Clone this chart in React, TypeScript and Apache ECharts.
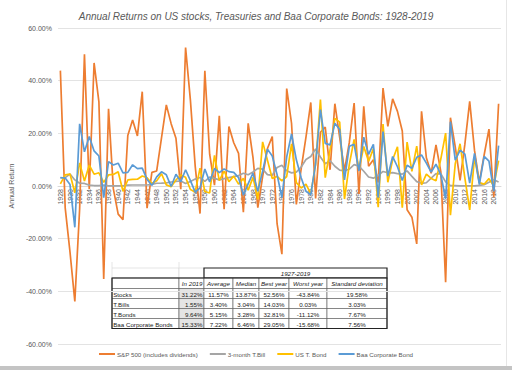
import React, { useEffect, useRef } from "react";
import * as echarts from "echarts";

const years: string[] = Array.from({ length: 92 }, (_, i) => String(1928 + i));

const sp500 = [
  43.81, -8.3, -25.12, -43.84, -8.64, 49.98, -1.19, 46.74, 31.94, -35.34,
  29.28, -1.1, -10.67, -12.77, 19.17, 25.06, 19.03, 35.82, -8.43, 5.2,
  5.7, 18.3, 30.81, 23.68, 18.15, -1.21, 52.56, 32.6, 7.44, -10.46,
  43.72, 12.06, 0.34, 26.64, -8.81, 22.61, 16.42, 12.4, -9.97, 23.8,
  10.81, -8.24, 3.56, 14.22, 18.76, -14.31, -25.9, 37.0, 23.83, -6.98,
  6.51, 18.52, 31.74, -4.7, 20.42, 22.34, 6.15, 31.24, 18.49, 5.81,
  16.54, 31.48, -3.06, 30.23, 7.49, 9.97, 1.33, 37.2, 22.68, 33.1,
  28.34, 20.89, -9.03, -11.85, -21.97, 28.36, 10.74, 4.83, 15.61, 5.48,
  -36.55, 25.94, 14.82, 2.1, 15.89, 32.15, 13.52, 1.38, 11.77, 21.61,
  -4.23, 31.22,
];

const tbill = [
  3.08, 3.16, 4.55, 2.31, 1.07, 0.96, 0.32, 0.18, 0.17, 0.3,
  0.08, 0.04, 0.03, 0.08, 0.34, 0.38, 0.38, 0.38, 0.38, 0.6,
  1.05, 1.12, 1.2, 1.52, 1.72, 1.89, 0.94, 1.72, 2.62, 3.22,
  1.77, 3.39, 2.87, 2.35, 2.77, 3.16, 3.55, 3.95, 4.86, 4.29,
  5.34, 6.67, 6.39, 4.33, 4.06, 7.04, 7.85, 5.79, 4.98, 5.27,
  7.22, 10.04, 11.22, 14.03, 11.01, 8.45, 9.61, 7.49, 6.04, 5.72,
  6.45, 8.11, 7.55, 5.61, 3.41, 2.98, 3.99, 5.52, 5.02, 5.05,
  4.73, 4.51, 5.76, 3.67, 1.66, 1.03, 1.23, 3.01, 4.68, 4.64,
  1.59, 0.14, 0.13, 0.03, 0.05, 0.07, 0.05, 0.21, 0.51, 1.39,
  2.37, 1.55,
];

const tbond = [
  0.84, 4.2, 4.54, -2.56, 8.79, 1.86, 7.96, 4.47, 5.02, 1.38,
  4.21, 4.41, 5.4, -2.02, 2.29, 2.49, 2.58, 3.8, 3.13, 0.92,
  1.95, 4.66, 0.43, -0.3, 2.27, 4.14, 3.29, -1.34, -2.26, 6.8,
  -2.1, -2.65, 11.64, 2.06, 5.69, 1.68, 3.73, 0.72, 2.91, -1.58,
  3.27, -5.01, 16.75, 9.79, 2.82, 3.66, 1.99, 3.61, 15.98, 1.29,
  -0.78, 0.67, -2.99, 8.2, 32.81, 3.2, 13.73, 25.71, 24.28, -4.96,
  8.22, 17.69, 6.24, 15.0, 9.36, 14.21, -8.04, 23.48, 1.43, 9.94,
  14.92, -8.25, 16.66, 5.57, 15.12, 0.38, 4.49, 2.87, 1.96, 10.21,
  20.1, -11.12, 8.46, 16.04, 2.97, -9.1, 10.75, 1.28, 0.69, 2.8,
  -0.02, 9.64,
];

const baa = [
  3.22, 3.02, 0.54, -15.68, 23.59, 12.97, 18.82, 13.31, 11.38, -4.42,
  9.24, 7.98, 8.65, 5.01, 5.18, 8.04, 6.57, 6.8, 2.51, 0.26,
  3.44, 5.38, 4.24, -0.19, 4.44, 1.62, 6.16, 2.04, -2.35, -0.72,
  6.43, 1.57, 6.66, 5.1, 6.5, 5.46, 5.16, 3.19, -3.45, 0.9,
  4.85, -2.03, 5.65, 14.0, 11.41, 4.32, -4.38, 11.05, 19.75, 9.95,
  3.14, -2.01, -3.32, 8.46, 29.05, 16.19, 15.62, 23.86, 21.49, 2.29,
  15.12, 15.79, 5.7, 18.54, 12.01, 15.78, -4.39, 20.64, 3.76, 11.18,
  7.31, 2.11, 7.88, 6.72, 10.93, 11.77, 8.71, 5.29, 8.27, 4.35,
  -4.83, 24.42, 9.82, 13.61, 12.09, 1.12, 12.34, 0.56, 11.24, 9.45,
  -2.06, 15.33,
];

const seriesNames = ["S&P 500 (includes dividends)", "3-month T.Bill", "US T. Bond", "Baa Corporate Bond"];
const seriesColors = ["#ED7D31", "#A5A5A5", "#FFC000", "#5B9BD5"];
const yTicks = { min: -60, max: 60, interval: 20 };

const tablePeriod = "1927-2019";
const tableHeaders = ["In 2019", "Average", "Median", "Best year", "Worst year", "Standard deviation"];
const tableRows = ["Stocks", "T.Bills", "T.Bonds", "Baa Corporate Bonds"];
const in2019 = ["31.22%", "1.55%", "9.64%", "15.33%"];
const average = ["11.57%", "3.40%", "5.15%", "7.22%"];
const median = ["13.87%", "3.04%", "3.28%", "6.46%"];
const bestYear = ["52.56%", "14.03%", "32.81%", "29.05%"];
const worstYear = ["-43.84%", "0.03%", "-11.12%", "-15.68%"];
const stdDev = ["19.58%", "3.03%", "7.67%", "7.56%"];

const FONT = '"Liberation Sans", Arial, sans-serif';

const GRID_TOP = 28;
const GRID_BOTTOM = 26;
const CHART_H = 370;

function buildTable(): any[] {
  const colX = [112, 179, 204, 233, 259, 289, 327, 387];
  const rowY = [268, 278, 288.5, 298.5, 308.5, 318.5, 328.5];
  const els: any[] = [];
  const font = `6.2px ${FONT}`;
  const ifont = `italic 6.2px ${FONT}`;
  els.push({ type: "rect", shape: { x: colX[0], y: rowY[0], width: colX[1] - colX[0], height: rowY[1] - rowY[0] }, style: { fill: "#fff", stroke: "#d4d4d4", lineWidth: 0.6 } });
  els.push({ type: "rect", shape: { x: colX[1], y: rowY[0], width: colX[2] - colX[1], height: rowY[1] - rowY[0] }, style: { fill: "#fff", stroke: "#d4d4d4", lineWidth: 0.6 } });
  els.push({ type: "line", shape: { x1: colX[1], y1: 262, x2: colX[1], y2: rowY[0] }, style: { stroke: "#d4d4d4", lineWidth: 0.6 } });
  els.push({ type: "line", shape: { x1: colX[0], y1: 262, x2: colX[0], y2: rowY[0] }, style: { stroke: "#d4d4d4", lineWidth: 0.6 } });
  els.push({ type: "rect", shape: { x: colX[2], y: rowY[0], width: colX[7] - colX[2], height: rowY[1] - rowY[0] }, style: { fill: "#fff", stroke: "#222", lineWidth: 1.2 } });
  els.push({ type: "text", style: { text: tablePeriod, x: (colX[2] + colX[7]) / 2, y: (rowY[0] + rowY[1]) / 2 + 0.5, font: ifont, fill: "#222", textAlign: "center", textVerticalAlign: "middle" } });
  const cols = [in2019, average, median, bestYear, worstYear, stdDev];
  for (let r = 0; r < 5; r++) {
    const y0 = rowY[r + 1];
    const y1 = rowY[r + 2];
    for (let c = 0; c < 7; c++) {
      const x0 = colX[c];
      const x1 = colX[c + 1];
      const shaded = c === 1 && r > 0;
      els.push({ type: "rect", shape: { x: x0, y: y0, width: x1 - x0, height: y1 - y0 }, style: { fill: shaded ? "#E4E4E4" : "#fff", stroke: "#555", lineWidth: 0.6 } });
      let text = "";
      let align = "center";
      let tx = (x0 + x1) / 2;
      let f = font;
      if (r === 0) {
        if (c > 0) text = tableHeaders[c - 1];
        f = ifont;
        if (c === 1) { align = "right"; tx = x1 - 1.5; }
      } else {
        if (c === 0) { text = tableRows[r - 1]; align = "left"; tx = x0 + 1.2; }
        else { text = cols[c - 1][r - 1]; if (c === 1) { align = "right"; tx = x1 - 1.5; } }
      }
      if (text) els.push({ type: "text", style: { text, x: tx, y: (y0 + y1) / 2 + 0.5, font: f, fill: "#222", textAlign: align, textVerticalAlign: "middle" } });
    }
  }
  els.push({ type: "rect", shape: { x: colX[0], y: rowY[1], width: colX[7] - colX[0], height: rowY[6] - rowY[1] }, style: { fill: "none", stroke: "#222", lineWidth: 1.2 } });
  return els;
}

export default function App() {
  const ref = useRef<HTMLDivElement>(null);
  useEffect(() => {
    if (!ref.current) return;
    const chart = echarts.init(ref.current, null, { renderer: "svg" });
    const datasets = [sp500, tbill, tbond, baa];
    const plotH = CHART_H - GRID_TOP - GRID_BOTTOM;
    const zeroOffset = -plotH * (0 - yTicks.min) / (yTicks.max - yTicks.min);
    chart.setOption({
      animation: false,
      backgroundColor: "#fff",
      title: {
        text: "Annual Returns on US stocks, Treasuries and Baa Corporate Bonds: 1928-2019",
        left: "center",
        top: 6,
        textStyle: { fontFamily: FONT, fontSize: 10, fontStyle: "italic", fontWeight: "normal", color: "#595959" },
      },
      grid: { left: 49, right: 11, top: GRID_TOP, bottom: GRID_BOTTOM, containLabel: false },
      legend: {
        bottom: 8,
        left: "center",
        icon: "rect",
        itemWidth: 16,
        itemHeight: 2,
        itemGap: 12,
        textStyle: { fontFamily: FONT, fontSize: 6.2, color: "#595959", padding: [0, 0, 0, -3] },
        data: seriesNames,
      },
      xAxis: {
        type: "category",
        data: years,
        boundaryGap: true,
        position: "bottom",
        offset: zeroOffset,
        axisLine: { onZero: false, lineStyle: { color: "#D9D9D9" } },
        axisTick: { show: false },
        axisLabel: { interval: 1, rotate: 90, fontFamily: FONT, fontSize: 7, color: "#595959", margin: 3 },
        splitLine: { show: false },
      },
      yAxis: {
        type: "value",
        min: yTicks.min,
        max: yTicks.max,
        interval: yTicks.interval,
        name: "Annual Return",
        nameLocation: "middle",
        nameGap: 30,
        nameTextStyle: { fontFamily: FONT, fontSize: 7, color: "#595959" },
        axisLine: { show: false },
        axisTick: { show: false },
        axisLabel: { formatter: (v: number) => v.toFixed(2) + "%", fontFamily: FONT, fontSize: 7, color: "#595959", margin: 6 },
        splitLine: { lineStyle: { color: "#E3E3E3", width: 1 } },
      },
      series: seriesNames.map((name, i) => ({
        name,
        type: "line",
        data: datasets[i],
        showSymbol: false,
        symbol: "none",
        lineStyle: { color: seriesColors[i], width: 1.7 },
        itemStyle: { color: seriesColors[i] },
        z: 2 + i,
      })),
      graphic: [
        { type: "rect", z: 0, silent: true, shape: { x: 506.5, y: 0, width: 0, height: 366 }, style: { stroke: "#E6E6E6", lineWidth: 1 } },
        { type: "rect", z: 0, silent: true, shape: { x: 0, y: 366, width: 512, height: 4 }, style: { fill: "#C4C4C4" } },
        { type: "group", z: 100, children: buildTable() },
      ],
    });
    return () => chart.dispose();
  }, []);
  return <div ref={ref} style={{ position: "fixed", left: 0, top: 0, width: 512, height: 370 }} />;
}
